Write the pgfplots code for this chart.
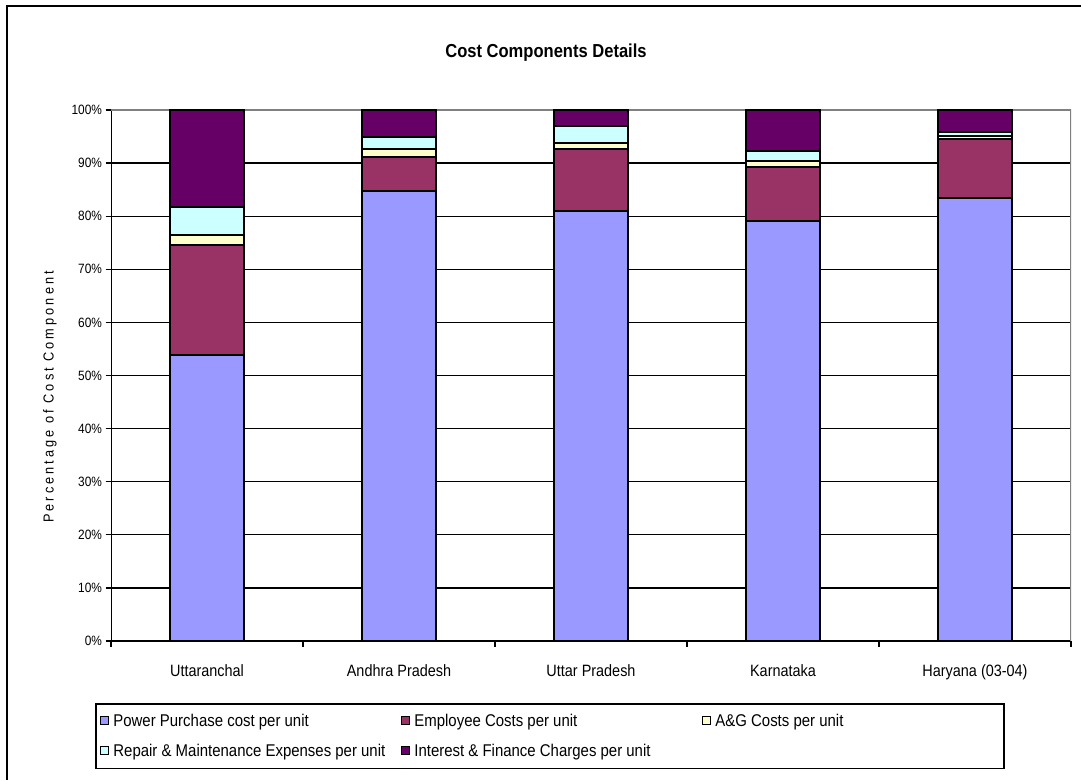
\documentclass[border=0pt]{standalone}
\usepackage{fontspec}
\setmainfont{Liberation Sans}[FakeStretch=0.88]
\usepackage{pgfplots}
\pgfplotsset{compat=1.18}
\definecolor{cPP}{HTML}{9999FF}
\definecolor{cEmp}{HTML}{993366}
\definecolor{cAG}{HTML}{FFFFCC}
\definecolor{cRM}{HTML}{CCFFFF}
\definecolor{cInt}{HTML}{660066}
\definecolor{cBorder}{HTML}{808080}
\begin{document}
\begin{tikzpicture}
\useasboundingbox (0pt,0pt) rectangle (1081pt,780pt);
\draw[line width=2pt] (7pt,0pt) -- (7pt,774pt) -- (1081pt,774pt);
\node[font=\fontsize{18.8}{22}\selectfont\bfseries] at (546pt,727pt) {Cost Components Details};
\node[rotate=90, font=\fontsize{14.5}{17}\selectfont\addfontfeature{LetterSpace=21}] at (50pt,383pt) {Percentage of Cost Component};
\begin{axis}[
  at={(111pt,139pt)}, anchor=south west,
  scale only axis, width=960pt, height=531pt,
  xmin=-0.5, xmax=4.5, ymin=0, ymax=100,
  ybar stacked, bar width=0.39,
  axis line style={draw=none},
  tick align=outside, tick pos=left,
  major tick length=5.5pt,
  tick style={black, line width=1.2pt},
  ytick={0,10,...,100},
  yticklabels={0\%,10\%,20\%,30\%,40\%,50\%,60\%,70\%,80\%,90\%,100\%},
  yticklabel style={font=\fontsize{13.5}{16}\selectfont},
  ymajorgrids, major grid style={black, line width=1.3pt},
  xtick={-0.5,0.5,1.5,2.5,3.5,4.5},
  x tick label as interval,
  xticklabels={Uttaranchal,Andhra Pradesh,Uttar Pradesh,Karnataka,Haryana (03-04)},
  xticklabel style={font=\fontsize{16.4}{19}\selectfont, yshift=-15pt},
  every axis plot/.append style={draw=black, line width=2pt},
  legend columns=3,
  legend cell align=left,
  legend style={at={(axis description cs:0,0)}, anchor=north west, xshift=-16pt, yshift=-62pt,
    draw=black, line width=1.8pt, inner xsep=4pt, inner ysep=9pt,
    font=\fontsize{17}{20}\selectfont, column sep=3pt, row sep=13pt,
    nodes={inner sep=1.5pt}},
  legend image code/.code={\draw[#1, line width=1pt] (0pt,-3.5pt) rectangle (8pt,5pt);},
]
\addplot[fill=cPP] coordinates {(0,53.8) (1,84.8) (2,80.9) (3,79.1) (4,83.5)};
\addplot[fill=cEmp] coordinates {(0,20.7) (1,6.3) (2,11.7) (3,10.1) (4,11.0)};
\addplot[fill=cAG] coordinates {(0,1.9) (1,1.5) (2,1.2) (3,1.2) (4,0.6)};
\addplot[fill=cRM] coordinates {(0,5.4) (1,2.4) (2,3.1) (3,1.9) (4,0.7)};
\addplot[fill=cInt] coordinates {(0,18.2) (1,5.0) (2,3.1) (3,7.7) (4,4.2)};
\addlegendentry{\makebox[283pt][l]{Power Purchase cost per unit}}
\addlegendentry{\makebox[283pt][l]{Employee Costs per unit}}
\addlegendentry{\makebox[283pt][l]{A\&G Costs per unit}}
\addlegendentry{\makebox[283pt][l]{Repair \& Maintenance Expenses per unit}}
\addlegendentry{\makebox[283pt][l]{Interest \& Finance Charges per unit}}
\draw[cBorder, line width=1.5pt] (rel axis cs:0,1) -- (rel axis cs:1,1) -- (rel axis cs:1,0);
\draw[black, line width=1.5pt] (rel axis cs:0,1) -- (rel axis cs:0,0) -- (rel axis cs:1,0);
\end{axis}
\end{tikzpicture}
\end{document}
